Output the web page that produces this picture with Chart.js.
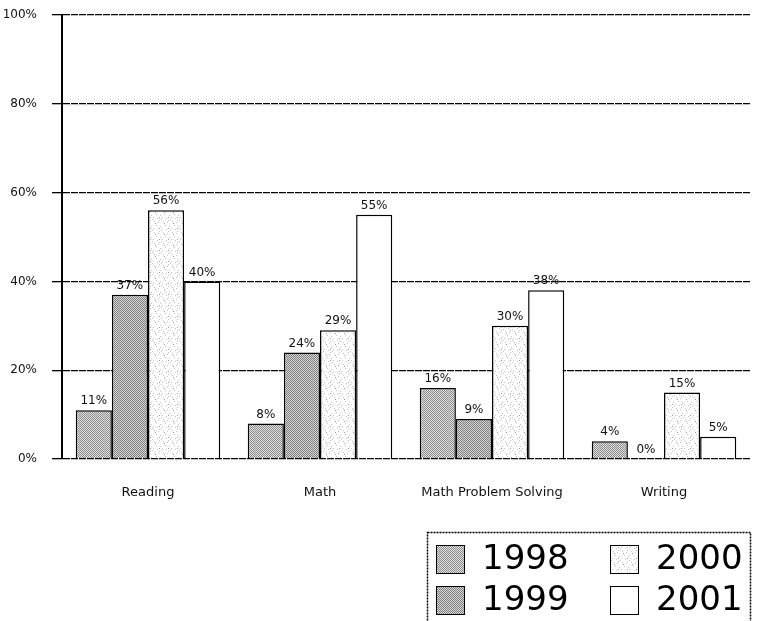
<!DOCTYPE html>
<html>
<head>
<meta charset="utf-8">
<script src="https://cdn.jsdelivr.net/npm/chart.js@4/dist/chart.umd.min.js"></script>
<style>
  html, body { margin: 0; padding: 0; background: #fff; }
  #wrap { width: 758px; height: 621px; position: relative; }
</style>
</head>
<body>
<div id="wrap"><canvas id="scoresChart" width="758" height="621"></canvas></div>
<script>
var subjects = ['Reading', 'Math', 'Math Problem Solving', 'Writing'];
var years = ['1998', '1999', '2000', '2001'];
var values1998 = [11, 8, 16, 4];
var values1999 = [37, 24, 9, 0];
var values2000 = [56, 29, 30, 15];
var values2001 = [40, 55, 38, 5];
var yTicks = [0, 20, 40, 60, 80, 100];

// little halftone fills, like the scanned original
function makePattern(kind) {
    var c = document.createElement('canvas');
    var g = c.getContext('2d');
    if (kind === 'checkLight' || kind === 'checkDark') {
        c.width = 2; c.height = 2;
        g.fillStyle = kind === 'checkLight' ? '#e0e0e0' : '#d6d6d6';
        g.fillRect(0, 0, 2, 2);
        g.fillStyle = kind === 'checkLight' ? '#8c8c8c' : '#808080';
        g.fillRect(0, 0, 1, 1);
        g.fillRect(1, 1, 1, 1);
    } else if (kind === 'speckle') {
        c.width = 9; c.height = 11;
        g.fillStyle = '#fff';
        g.fillRect(0, 0, 9, 11);
        g.fillStyle = '#c4c4c4';
        [[1, 1], [5, 2], [3, 5], [7, 6], [0, 8], [4, 9], [8, 10], [6, 0]].forEach(function (p) {
            g.fillRect(p[0], p[1], 1, 1);
        });
        g.fillStyle = '#999';
        g.fillRect(2, 3, 1, 1);
        g.fillRect(6, 8, 1, 1);
    } else {
        c.width = 1; c.height = 1;
        g.fillStyle = '#fff';
        g.fillRect(0, 0, 1, 1);
    }
    return g.createPattern(c, 'repeat');
}

var ctx = document.getElementById('scoresChart').getContext('2d');
var fills = [makePattern('checkLight'), makePattern('checkDark'), makePattern('speckle'), makePattern('white')];
var series = [values1998, values1999, values2000, values2001];

var valueLabels = {
    id: 'valueLabels',
    afterDatasetsDraw: function (chart) {
        var c = chart.ctx;
        c.save();
        c.font = '12px "DejaVu Sans"';
        c.fillStyle = '#111';
        c.textAlign = 'center';
        c.textBaseline = 'bottom';
        chart.data.datasets.forEach(function (ds, i) {
            chart.getDatasetMeta(i).data.forEach(function (bar, j) {
                c.fillText(ds.data[j] + '%', bar.x, bar.y - 3);
            });
        });
        c.restore();
    }
};

var boxLegend = {
    id: 'boxLegend',
    afterDraw: function (chart) {
        var c = chart.ctx;
        var left = 427, top = 532, right = 750;
        c.save();
        c.strokeStyle = '#000';
        c.lineWidth = 1.5;
        c.setLineDash([2, 1]);
        c.strokeRect(left + 0.5, top + 0.5, right - left, 120);
        c.setLineDash([]);
        c.font = '34px "DejaVu Sans"';
        c.textBaseline = 'middle';
        var order = [[0, 0, 0], [2, 1, 0], [1, 0, 1], [3, 1, 1]];
        order.forEach(function (o) {
            var sx = left + 9 + o[1] * 174;
            var sy = top + 13 + o[2] * 41;
            c.fillStyle = chart.data.datasets[o[0]].backgroundColor;
            c.fillRect(sx, sy, 28, 28);
            c.strokeStyle = '#000';
            c.lineWidth = 1;
            c.strokeRect(sx + 0.5, sy + 0.5, 28, 28);
            c.fillStyle = '#000';
            c.fillText(years[o[0]], sx + 46, sy + 15);
        });
        c.restore();
    }
};

new Chart(ctx, {
    type: 'bar',
    data: {
        labels: subjects,
        datasets: years.map(function (y, i) {
            return {
                label: y,
                data: series[i],
                backgroundColor: fills[i],
                borderColor: '#000',
                borderWidth: 1.5,
                categoryPercentage: 0.84,
                barPercentage: 1.0
            };
        })
    },
    options: {
        responsive: false,
        animation: false,
        layout: {
            padding: { top: 15, right: 8, bottom: 0, left: 0 }
        },
        plugins: {
            legend: { display: false },
            tooltip: { enabled: false }
        },
        scales: {
            x: {
                grid: { display: false, drawTicks: false },
                border: { display: false },
                ticks: {
                    padding: 26,
                    color: '#111',
                    font: { family: 'DejaVu Sans', size: 13 }
                },
                afterFit: function (scale) {
                    scale.height = 162;
                    scale.paddingLeft = 0;
                    scale.paddingRight = 0;
                }
            },
            y: {
                min: 0,
                max: 100,
                afterBuildTicks: function (scale) {
                    scale.ticks = yTicks.map(function (v) { return { value: v }; });
                },
                grid: {
                    color: '#000',
                    lineWidth: 1.3,
                    tickLength: 10
                },
                border: { display: true, color: '#000', width: 2, dash: [7, 1] },
                ticks: {
                    padding: 15,
                    color: '#111',
                    font: { family: 'DejaVu Sans', size: 12 },
                    callback: function (v) { return v + '%'; }
                },
                afterFit: function (scale) {
                    scale.width = 62;
                    scale.paddingTop = 0;
                    scale.paddingBottom = 0;
                }
            }
        }
    },
    plugins: [valueLabels, boxLegend]
});
</script>
</body>
</html>
